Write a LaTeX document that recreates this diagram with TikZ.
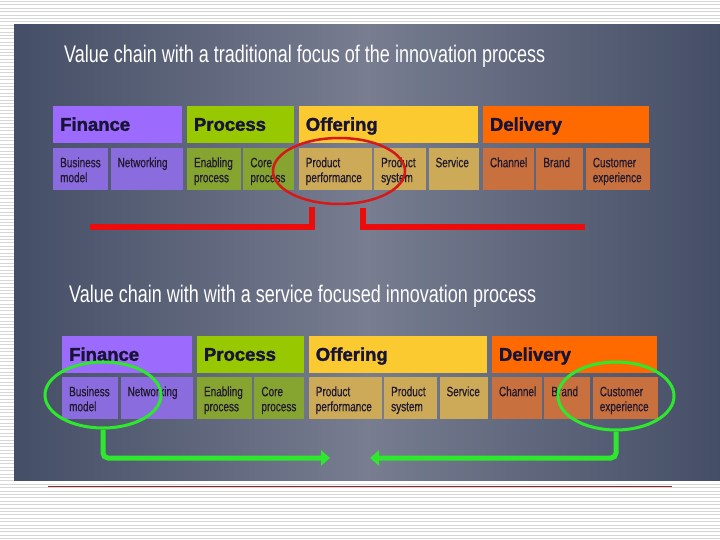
\documentclass[tikz,border=0pt]{standalone}
\usepackage{fontspec}
\setmainfont{Liberation Sans}
\newfontfamily\titlefont[FakeStretch=0.75]{Liberation Sans}
\newfontfamily\cellfont[FakeStretch=0.74,FakeBold=0.6]{Liberation Sans}
\newfontfamily\headfont[BoldFeatures={FakeBold=1.6}]{Liberation Sans}
\usetikzlibrary{positioning,shapes.geometric,arrows.meta}
\hyphenpenalty=10000

\definecolor{panelDark}{RGB}{68,78,102}
\definecolor{panelLight}{RGB}{120,125,144}
\definecolor{stripeGrey}{RGB}{214,214,214}
\definecolor{finHead}{RGB}{156,106,252}
\definecolor{finCell}{RGB}{138,108,222}
\definecolor{proHead}{RGB}{152,200,0}
\definecolor{proCell}{RGB}{134,164,48}
\definecolor{offHead}{RGB}{250,202,48}
\definecolor{offCell}{RGB}{204,170,88}
\definecolor{delHead}{RGB}{255,106,0}
\definecolor{delCell}{RGB}{200,112,62}
\definecolor{headInk}{RGB}{24,20,56}
\definecolor{cellInk}{RGB}{34,26,48}
\definecolor{ringRed}{RGB}{215,24,24}
\definecolor{barRed}{RGB}{236,12,12}
\definecolor{ringGreen}{RGB}{46,232,46}
\definecolor{ruleRed}{RGB}{150,36,36}

\begin{document}
\begin{tikzpicture}[
    x=1pt, y=-1pt,
    head/.style 2 args={fill=#1, text width=#2, minimum height=37pt,
        inner xsep=7pt, inner ysep=0pt, text height=13pt, text depth=0pt,
        align=left, text=headInk, anchor=south west,
        font=\headfont\fontsize{18.5}{20}\selectfont\bfseries},
    cell/.style 2 args={fill=#1, text width=#2, inner xsep=7pt, inner ysep=0pt,
        text height=19pt, text depth=23pt, align=left, text=cellInk,
        font=\cellfont\fontsize{13.5}{15}\selectfont},
    heading/.style={text=white, anchor=base west, inner sep=0pt,
        font=\titlefont\fontsize{24}{28}\selectfont},
    ring/.style={draw=#1, ellipse, line width=2.5pt, inner sep=0pt},
    redbar/.style={draw=barRed, line width=6pt},
    greenarrow/.style={draw=ringGreen, line width=5pt, rounded corners=5pt,
        -{Triangle[length=9pt,width=15pt]}},
    node distance=2pt
]
\useasboundingbox (0,0) rectangle (720,540);
% page and slide
\fill[white] (0,0) rectangle (720,540);
\foreach \y in {1.5,4.9,...,540}
    \draw[stripeGrey, line width=1pt] (0,\y) -- (720,\y);
\shade[left color=panelDark, right color=panelDark, middle color=panelLight]
    (14,25) rectangle (720,480);
\draw[ruleRed, line width=1pt] (48,486) -- (672,486);

% traditional value chain
\node[heading] (t-title) at (64,63) {Value chain with a traditional focus of the innovation process};
\node[cell={finCell}{41pt}, anchor=north west] (t-bm) at (53,148) {Business\\model};
\node[cell={finCell}{58pt}, right=of t-bm] (t-nw) {Networking};
\node[cell={proCell}{40pt}, right=4pt of t-nw] (t-ep) {Enabling\\process};
\node[cell={proCell}{37pt}, right=of t-ep] (t-cp) {Core\\process};
\node[cell={offCell}{59pt}, right=4pt of t-cp] (t-pp) {Product\\performance};
\node[cell={offCell}{38pt}, right=of t-pp] (t-ps) {Product\\system};
\node[cell={offCell}{36pt}, right=of t-ps] (t-sv) {Service};
\node[cell={delCell}{37pt}, right=4pt of t-sv] (t-ch) {Channel};
\node[cell={delCell}{33pt}, right=of t-ch] (t-br) {Brand};
\node[cell={delCell}{50pt}, right=of t-br] (t-ce) {Customer\\experience};
\node[head={finHead}{115pt}] (t-fin) at ([yshift=5pt]t-bm.north west) {Finance};
\node[head={proHead}{93pt}] (t-pro) at ([yshift=5pt]t-ep.north west) {Process};
\node[head={offHead}{165pt}] (t-off) at ([yshift=5pt]t-pp.north west) {Offering};
\node[head={delHead}{152pt}] (t-del) at ([yshift=5pt]t-ch.north west) {Delivery};
\node[ring=ringRed, minimum width=132pt, minimum height=66pt] (t-focus) at (339,171) {};
\coordinate (t-stubL) at (312,207);
\coordinate (t-barL) at (90,227);
\coordinate (t-stubR) at (363,208);
\coordinate (t-barR) at (585,227);
\draw[redbar] (t-stubL) |- (t-barL);
\draw[redbar] (t-stubR) |- (t-barR);

% service focused value chain
\node[heading] (b-title) at (69,302) {Value chain with with a service focused innovation process};
\node[cell={finCell}{42pt}, anchor=north west] (b-bm) at (62,377) {Business\\model};
\node[cell={finCell}{58pt}, right=of b-bm] (b-nw) {Networking};
\node[cell={proCell}{41pt}, right=4pt of b-nw] (b-ep) {Enabling\\process};
\node[cell={proCell}{36pt}, right=of b-ep] (b-cp) {Core\\process};
\node[cell={offCell}{59pt}, right=4pt of b-cp] (b-pp) {Product\\performance};
\node[cell={offCell}{39pt}, right=of b-pp] (b-ps) {Product\\system};
\node[cell={offCell}{34pt}, right=of b-ps] (b-sv) {Service};
\node[cell={delCell}{36pt}, right=4pt of b-sv] (b-ch) {Channel};
\node[cell={delCell}{32pt}, right=of b-ch] (b-br) {Brand};
\node[cell={delCell}{51pt}, right=of b-br] (b-ce) {Customer\\experience};
\node[head={finHead}{116pt}] (b-fin) at ([yshift=4pt]b-bm.north west) {Finance};
\node[head={proHead}{93pt}] (b-pro) at ([yshift=4pt]b-ep.north west) {Process};
\node[head={offHead}{164pt}] (b-off) at ([yshift=4pt]b-pp.north west) {Offering};
\node[head={delHead}{151pt}] (b-del) at ([yshift=4pt]b-ch.north west) {Delivery};
\node[ring=ringGreen, line width=3pt, minimum width=116pt, minimum height=66pt] (b-model) at (103,395) {};
\node[ring=ringGreen, line width=3pt, minimum width=116pt, minimum height=68pt] (b-exp) at (616,396) {};
\coordinate (b-tipL) at (330,458);
\coordinate (b-tipR) at (370,458);
\draw[greenarrow] (b-model.south) |- (b-tipL);
\draw[greenarrow] (b-exp.south) |- (b-tipR);
\end{tikzpicture}
\end{document}
